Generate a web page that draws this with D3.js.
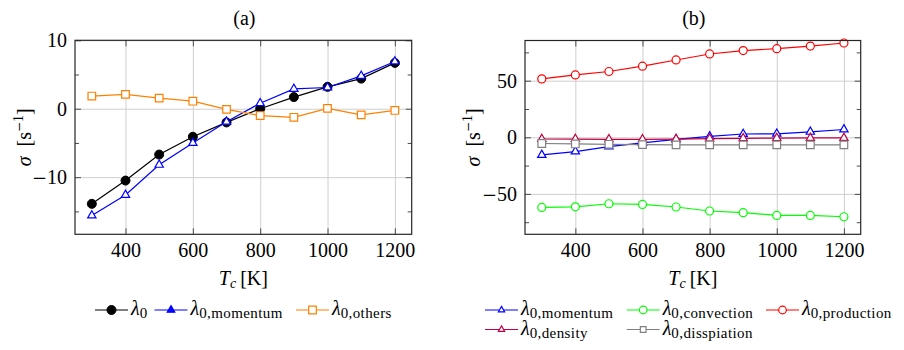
<!DOCTYPE html>
<html>
<head>
<meta charset="utf-8">
<script src="https://cdn.jsdelivr.net/npm/d3@7/dist/d3.min.js"></script>
</head>
<body style="margin:0">
<svg id="chart" width="904" height="350"></svg>
<script>
// ---------------- data ----------------
const temps = [300, 400, 500, 600, 700, 800, 900, 1000, 1100, 1200];
const xTickValues = [400, 600, 800, 1000, 1200];

// panel (a)
const lambda0        = [-13.9, -10.5, -6.7, -4.1, -2.0, 0.0, 1.7, 3.2, 4.4, 6.7];
const lambdaMomentum = [-15.6, -12.6, -8.2, -5.0, -1.9, 0.8, 2.9, 3.1, 4.8, 6.9];
const lambdaOthers   = [1.85, 2.1, 1.55, 1.1, -0.1, -1.0, -1.25, 0.05, -0.9, -0.25];
const yTicksA = [-10, 0, 10];
const yMinorA = [-15, -5, 5];

// panel (b)
const lambdaConvection  = [-62.0, -61.4, -58.7, -59.3, -61.6, -65.1, -66.6, -69.0, -69.0, -70.2];
const lambdaProduction  = [51.6, 55.1, 58.1, 62.8, 68.3, 73.6, 76.6, 78.3, 80.6, 83.3];
const lambdaDensity     = [-1.5, -1.6, -1.8, -1.8, -1.6, -1.2, -0.9, -0.7, -0.6, -0.6];
const lambdaDissipation = [-5.5, -5.9, -6.2, -6.5, -6.7, -6.7, -6.7, -6.7, -6.7, -6.7];
const yTicksB = [-50, 0, 50];
const yMinorB = [-75, -25, 25, 75];

// ---------------- drawing ----------------
const svg = d3.select("#chart");
const FAM = "'Times New Roman'";
const MINUS_FAM = "'DejaVu Serif'";
const GRID = "#cfcfcf", TICK = "#4d4d4d";

const setFont = (sel, size) => sel.style("font-family", FAM).style("font-size", size + "px").attr("fill", "#000");

// write a number label, putting the minus sign in its own tspan
function numLabel(sel, str, size) {
  sel.text(null);
  if (str[0] === "\u2212" || str[0] === "-") {
    sel.append("tspan").style("font-family", MINUS_FAM).style("font-size", (size - 2) + "px").text("\u2212");
    sel.append("tspan").style("font-family", FAM).text(str.slice(1));
  } else {
    sel.append("tspan").style("font-family", FAM).text(str);
  }
}

function drawPanel(cfg) {
  const x = d3.scaleLinear().domain([250, 1250]).range([cfg.left, cfg.right]);
  const y = d3.scaleLinear().domain(cfg.yDomain).range([cfg.bottom, cfg.top]);
  const W = cfg.right - cfg.left, H = cfg.bottom - cfg.top;
  const g = svg.append("g");

  // grid
  g.append("g").attr("transform", `translate(0,${cfg.bottom})`)
    .call(d3.axisBottom(x).tickValues(xTickValues).tickSize(-H).tickFormat(""))
    .call(s => { s.select(".domain").remove(); s.selectAll("line").attr("stroke", GRID).attr("stroke-width", 1); });
  g.append("g").attr("transform", `translate(${cfg.left},0)`)
    .call(d3.axisLeft(y).tickValues(cfg.yTicks).tickSize(-W).tickFormat(""))
    .call(s => { s.select(".domain").remove(); s.selectAll("line").attr("stroke", GRID).attr("stroke-width", 1); });

  // ticks (inward) and labels
  const styleAxis = s => {
    s.attr("font-family", null).attr("font-size", null);
    s.select(".domain").remove();
    s.selectAll("line").attr("stroke", TICK).attr("stroke-width", 1);
    s.selectAll("text").call(setFont, 20).each(function () {
      const t = d3.select(this); const str = t.text();
      if (str) numLabel(t, str, 20);
    });
  };
  g.append("g").attr("transform", `translate(0,${cfg.bottom})`)
    .call(d3.axisBottom(x).tickValues(xTickValues).tickSize(-6).tickPadding(8.5).tickFormat(d3.format("d")))
    .call(styleAxis);
  g.append("g").attr("transform", `translate(0,${cfg.top})`)
    .call(d3.axisTop(x).tickValues(xTickValues).tickSize(-6).tickFormat(""))
    .call(styleAxis);
  g.append("g").attr("transform", `translate(${cfg.left},0)`)
    .call(d3.axisLeft(y).tickValues(cfg.yTicks).tickSize(-6).tickPadding(8).tickFormat(d3.format("d")))
    .call(styleAxis);
  g.append("g").attr("transform", `translate(${cfg.left},0)`)
    .call(d3.axisLeft(y).tickValues(cfg.yMinor).tickSize(-4).tickFormat(""))
    .call(styleAxis);
  g.append("g").attr("transform", `translate(${cfg.right},0)`)
    .call(d3.axisRight(y).tickValues(cfg.yTicks).tickSize(-6).tickFormat(""))
    .call(styleAxis);
  g.append("g").attr("transform", `translate(${cfg.right},0)`)
    .call(d3.axisRight(y).tickValues(cfg.yMinor).tickSize(-4).tickFormat(""))
    .call(styleAxis);

  // series
  const line = d3.line().x((d, i) => x(temps[i])).y(d => y(d));
  cfg.series.forEach(s => {
    const sg = g.append("g");
    sg.append("path").datum(s.values).attr("d", line)
      .attr("fill", "none").attr("stroke", s.color).attr("stroke-width", 1.2);
    drawMarkers(sg, s, s.values.map((v, i) => [x(temps[i]), y(v)]), false);
  });

  // frame
  g.append("rect").attr("x", cfg.left).attr("y", cfg.top).attr("width", W).attr("height", H)
    .attr("fill", "none").attr("stroke", "#262626").attr("stroke-width", 1.2);

  // title
  g.append("text").attr("x", (cfg.left + cfg.right) / 2 + 1).attr("y", 24.5)
    .attr("text-anchor", "middle").call(setFont, 20).text(cfg.title);

  // x label
  const xl = g.append("text").attr("x", (cfg.left + cfg.right) / 2).attr("y", 285)
    .attr("text-anchor", "middle").call(setFont, 20);
  xl.append("tspan").style("font-style", "italic").text("T");
  xl.append("tspan").style("font-style", "italic").style("font-size", "14px").attr("dy", 3).text("c");
  xl.append("tspan").attr("dy", -3).text("\u2009[K]");

  // y label
  const yl = g.append("text")
    .attr("transform", `translate(${cfg.yLabelX},${(cfg.top + cfg.bottom) / 2}) rotate(-90)`)
    .attr("text-anchor", "middle").call(setFont, 20);
  yl.append("tspan").style("font-style", "italic").text("σ");
  yl.append("tspan").text("\u2002[s");
  yl.append("tspan").style("font-family", MINUS_FAM).style("font-size", "12px").attr("dy", -8).text("\u2212");
  yl.append("tspan").style("font-size", "14px").text("1");
  yl.append("tspan").attr("dy", 8).text("]");

  // legend
  cfg.legend.forEach(item => {
    const s = cfg.series[item.idx];
    const lg = g.append("g");
    lg.append("line").attr("x1", item.x).attr("x2", item.x + 33).attr("y1", item.y).attr("y2", item.y)
      .attr("stroke", s.color).attr("stroke-width", 1.2);
    drawMarkers(lg, s, [[item.x + 16.5, item.y]], true);
    const t = lg.append("text").attr("x", item.x + 36).attr("y", item.y + 5).call(setFont, 20);
    t.append("tspan").style("font-style", "italic").text("λ");
    t.append("tspan").style("font-size", "15px").style("letter-spacing", "0.4px").attr("dy", 3).text(s.sub);
  });
}

function drawMarkers(g, s, pts, legend) {
  const k = legend ? s.legendScale : 1;
  pts.forEach(([px, py]) => {
    if (s.marker === "circleFilled") {
      g.append("circle").attr("cx", px).attr("cy", py).attr("r", 4.5 * k)
        .attr("fill", s.color).attr("stroke", s.color).attr("stroke-width", 1);
    } else if (s.marker === "circle") {
      g.append("circle").attr("cx", px).attr("cy", py).attr("r", 4.0 * k)
        .attr("fill", "#fff").attr("stroke", s.color).attr("stroke-width", 1.2);
    } else {
      const type = s.marker === "triangle" ? d3.symbolTriangle : d3.symbolSquare;
      const size = s.marker === "triangle" ? 30 : 58;
      g.append("path").attr("d", d3.symbol().type(type).size(size * k * k)())
        .attr("transform", `translate(${px},${py})`)
        .attr("fill", s.fillLegend && legend ? s.color : "#fff")
        .attr("stroke", s.color).attr("stroke-width", 1.2);
    }
  });
}

drawPanel({
  left: 75, right: 411.7, top: 40.3, bottom: 234.3,
  yDomain: [-18.35, 10], yTicks: yTicksA, yMinor: yMinorA,
  title: "(a)", yLabelX: 31,
  series: [
    { values: lambda0, color: "#000000", marker: "circleFilled", sub: "0", legendScale: 1 },
    { values: lambdaMomentum, color: "#0000ff", marker: "triangle", sub: "0,momentum", legendScale: 0.9, fillLegend: true },
    { values: lambdaOthers, color: "#ff8000", marker: "square", sub: "0,others", legendScale: 1 }
  ],
  legend: [
    { idx: 0, x: 95, y: 310 },
    { idx: 1, x: 154.5, y: 310 },
    { idx: 2, x: 296, y: 310 }
  ]
});

drawPanel({
  left: 525, right: 860.7, top: 40.5, bottom: 234.3,
  yDomain: [-85.7, 85.5], yTicks: yTicksB, yMinor: yMinorB,
  title: "(b)", yLabelX: 479.5,
  series: [
    { values: lambdaMomentum, color: "#0000ff", marker: "triangle", sub: "0,momentum", legendScale: 0.75 },
    { values: lambdaConvection, color: "#00ff00", marker: "circle", sub: "0,convection", legendScale: 0.95 },
    { values: lambdaProduction, color: "#ff0000", marker: "circle", sub: "0,production", legendScale: 0.95 },
    { values: lambdaDensity, color: "#bf0040", marker: "triangle", sub: "0,density", legendScale: 0.75 },
    { values: lambdaDissipation, color: "#808080", marker: "square", sub: "0,disspiation", legendScale: 0.75 }
  ],
  legend: [
    { idx: 0, x: 485, y: 310 },
    { idx: 1, x: 626.7, y: 310 },
    { idx: 2, x: 766, y: 310 },
    { idx: 3, x: 485, y: 329.5 },
    { idx: 4, x: 626.7, y: 329.5 }
  ]
});
</script>
</body>
</html>
